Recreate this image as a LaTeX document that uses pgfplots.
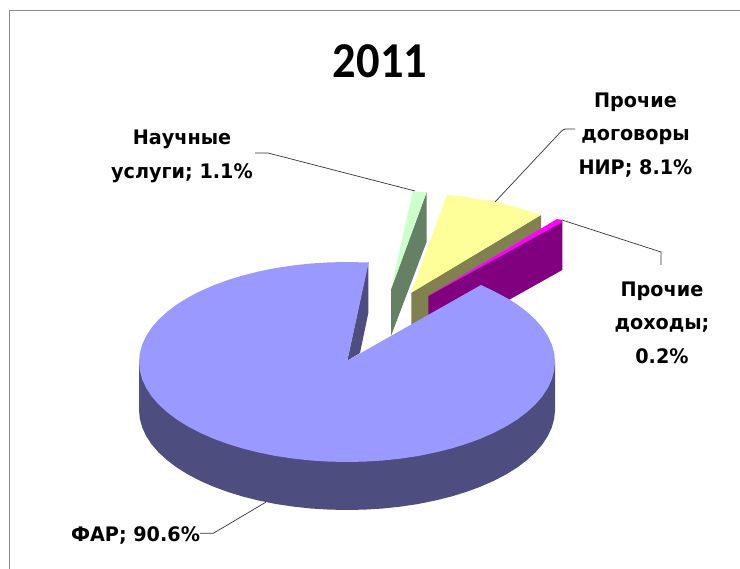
\documentclass[border=0pt]{standalone}
\usepackage{pgfplots}
\pgfplotsset{compat=1.18}
\usepackage{fontspec}
\setmainfont{DejaVu Sans}
\newfontfamily\titlefont{Carlito}
\definecolor{faTop}{HTML}{9999FF}
\definecolor{faSide}{HTML}{4D4D80}
\definecolor{grTop}{HTML}{CCFFCC}
\definecolor{grSide}{HTML}{668066}
\definecolor{yeTop}{HTML}{FFFF99}
\definecolor{yeSide}{HTML}{808050}
\definecolor{puTop}{HTML}{FF00FF}
\definecolor{puSide}{HTML}{800080}
\definecolor{frameC}{HTML}{8C8C8C}
\tikzset{lbl/.style={font=\bfseries\fontsize{20}{33.5}\selectfont, align=center, text=black, inner sep=0pt, xscale=0.96, transform shape}}
\begin{document}
\begin{tikzpicture}
\begin{axis}[
  width=740pt, height=569pt, scale only axis,
  xmin=0, xmax=740, ymin=0, ymax=569, y dir=reverse,
  hide axis, clip=true,
]
% keeps the page as large as the whole axis
\addplot[draw=none] coordinates {(0,0) (740,569)};
% frame
\addplot[draw=frameC, line width=1pt] coordinates {(9.3,569) (9.3,10.5) (740,10.5)};

% side wall of the big slice
\addplot[fill=faSide, draw=none] coordinates {
 (139,362) (139,410) (139.8,418.7) (142.2,427.4) (146.1,435.9) (151.5,444.2) (158.5,452.3)
 (166.9,460) (176.6,467.4) (187.7,474.3) (199.9,480.7) (213.3,486.6) (227.7,491.9)
 (243,496.6) (259.1,500.6) (275.9,504) (293.2,506.6) (310.9,508.5) (328.9,509.6) (347,510)
 (365.1,509.6) (383.1,508.5) (400.8,506.6) (418.1,504) (434.9,500.6) (451,496.6) (466.3,491.9)
 (480.7,486.6) (494.1,480.7) (506.3,474.3) (517.4,467.4) (527.1,460) (535.5,452.3)
 (542.5,444.2) (547.9,435.9) (551.8,427.4) (554.2,418.7) (555,410) (555,362)} -- cycle;
% inner wall of the big slice
\addplot[fill=faSide, draw=none] coordinates {(347.3,360.7) (368.3,262) (368.3,313) (360,353)} -- cycle;

% Nauchnye uslugi
\addplot[fill=grSide, draw=none] coordinates {(426.7,192) (426.7,241.7) (391,336) (391,289.3)} -- cycle;
\addplot[fill=grTop, draw=none] coordinates {(412.7,191.5) (426.7,192) (391,289.3)} -- cycle;

% Prochie dogovory
\addplot[fill=yeSide, draw=none] coordinates {(411.3,292.7) (541,215) (541,263) (411.3,341)} -- cycle;
\addplot[fill=yeTop, draw=none] coordinates {(411.3,292.7) (446.7,195) (460,196) (473.3,198.3) (495,201.7) (520,208.3) (541,215)} -- cycle;

% Prochie dohody
\addplot[fill=puSide, draw=none] coordinates {(428.3,296) (562.3,221.7) (562.3,270) (428.3,345)} -- cycle;
\addplot[fill=puTop, draw=none] coordinates {(428.3,296) (557,219) (562.3,220) (562.3,222)} -- cycle;

% top of the big slice
\addplot[fill=faTop, draw=none] coordinates {
 (347.3,360.7) (368.7,262.5) (347,262) (328.9,262.4) (310.9,263.5) (293.2,265.4) (275.9,268)
 (259.1,271.4) (243,275.4) (227.7,280.1) (213.3,285.4) (199.9,291.3) (187.7,297.7) (176.6,304.6)
 (166.9,312) (158.5,319.7) (151.5,327.8) (146.1,336.1) (142.2,344.6) (139.8,353.3) (139,362)
 (139.8,370.7) (142.2,379.4) (146.1,387.9) (151.5,396.2) (158.5,404.3) (166.9,412) (176.6,419.4)
 (187.7,426.3) (199.9,432.7) (213.3,438.6) (227.7,443.9) (243,448.6) (259.1,452.6) (275.9,456)
 (293.2,458.6) (310.9,460.5) (328.9,461.6) (347,462) (365.1,461.6) (383.1,460.5) (400.8,458.6)
 (418.1,456) (434.9,452.6) (451,448.6) (466.3,443.9) (480.7,438.6) (494.1,432.7) (506.3,426.3)
 (517.4,419.4) (527.1,412) (535.5,404.3) (542.5,396.2) (547.9,387.9) (551.8,379.4) (554.2,370.7)
 (555,362) (554.2,353.3) (551.8,344.6) (547.9,336.1) (542.5,327.8) (535.5,319.7) (527.1,312)
 (517.4,304.6) (506.3,297.7) (494.1,291.3) (481,285)} -- cycle;

% leader lines
\addplot[draw=black!80, line width=0.7pt] coordinates {(255,153) (268,153) (415,191)};
\addplot[draw=black!80, line width=0.7pt] coordinates {(495,202) (562,130.5) (565,129) (575,129)};
\addplot[draw=black!80, line width=0.7pt] coordinates {(562,220) (661,252) (661,265)};
\addplot[draw=black!80, line width=0.7pt] coordinates {(200,533.3) (213.3,533.3) (265.7,502.3)};

% text
\node[font=\titlefont\bfseries\fontsize{46.5}{48}\selectfont, yscale=1.08, transform shape] at (axis cs:380,61) {2011};
\node[lbl] at (axis cs:182,156.5) {Научные\\услуги; 1.1\%};
\node[lbl] at (axis cs:635.5,135) {Прочие\\договоры\\НИР; 8.1\%};
\node[lbl] at (axis cs:662,322.5) {Прочие\\доходы;\\0.2\%};
\node[lbl] at (axis cs:135.5,535) {ФАР; 90.6\%};
\end{axis}
\end{tikzpicture}
\end{document}
